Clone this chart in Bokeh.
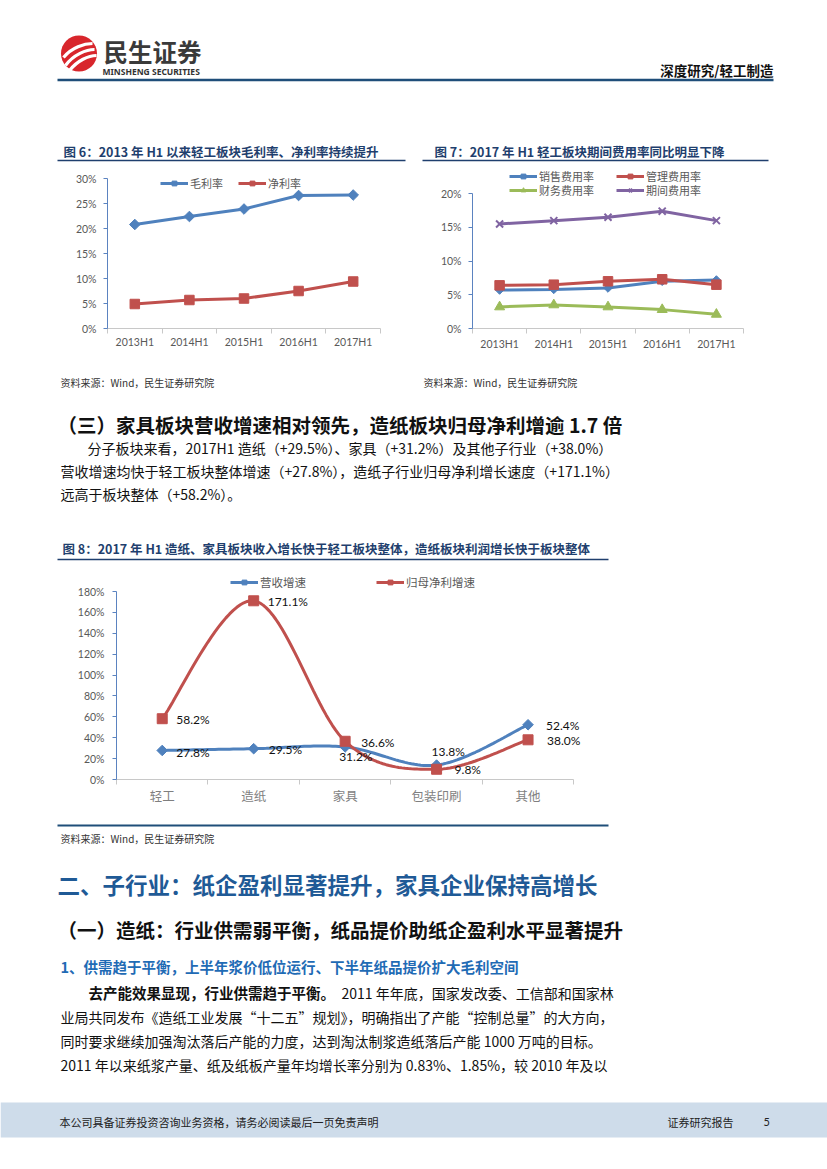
import numpy as np
from bokeh.plotting import figure
from bokeh.layouts import column, row
from bokeh.models import (Range1d, LinearAxis, FixedTicker, PrintfTickFormatter,
                          CustomJSTickFormatter, Legend, LegendItem, Spacer, ColumnDataSource)
from bokeh.core.properties import value
from bokeh.embed import file_html
from bokeh.resources import INLINE

# ---------------- data ----------------
periods = ["2013H1", "2014H1", "2015H1", "2016H1", "2017H1"]
gross_margin = [20.8, 22.4, 23.9, 26.6, 26.7]
net_margin = [4.9, 5.7, 6.0, 7.5, 9.4]

selling_rate = [5.7, 5.8, 6.0, 7.0, 7.2]
admin_rate = [6.4, 6.5, 7.0, 7.3, 6.5]
finance_rate = [3.2, 3.5, 3.2, 2.8, 2.1]
period_rate = [15.5, 16.0, 16.5, 17.4, 16.0]

sectors = ["轻工", "造纸", "家具", "包装印刷", "其他"]
revenue_growth = [27.8, 29.5, 31.2, 13.8, 52.4]
profit_growth = [58.2, 171.1, 36.6, 9.8, 38.0]

# ---------------- styles ----------------
CJK = "Noto Sans CJK SC"
NUM = "Lato"
BLUE, RED, GREEN, PURPLE = "#4F81BD", "#C0504D", "#9BBB59", "#8064A2"
NAVY = "#1F3F6E"
TICK_GRAY = "#595959"
AXIS_BLUE = "#5B83C0"
AXIS_GRAY = "#C8C8C8"
BODY = "#111111"

W = 827


def page(top, height):
    p = figure(width=W, height=height, x_range=Range1d(0, W),
               y_range=Range1d(top + height, top), output_backend="svg",
               toolbar_location=None, min_border=0, x_axis_type=None,
               y_axis_type=None, title=None)
    p.outline_line_color = None
    p.background_fill_color = "white"
    p.border_fill_color = "white"
    return p


def txt(p, x, y, s, size, color=BODY, bold=False, align="left", font=CJK):
    p.text(x=[x], y=[y], text=[s], text_font=value(font),
           text_font_size=f"{size}px", text_color=color,
           text_font_style="bold" if bold else "normal",
           text_align=align, text_baseline="middle")


def hline(p, x0, x1, y, w, color=NAVY):
    p.line(x=[x0, x1], y=[y, y], line_width=w, line_color=color)


def chart(width, height, left, right, top, bottom, labels, x_end, y_max, y_end, y_step,
          xfont, xsize, xcolor, xstandoff):
    n = len(labels)
    p = figure(width=width, height=height, output_backend="svg", toolbar_location=None,
               x_range=Range1d(0, x_end), y_range=Range1d(0, y_end),
               x_axis_type=None, y_axis_type=None, title=None,
               min_border_left=left, min_border_right=right,
               min_border_top=top, min_border_bottom=bottom)
    p.outline_line_color = None
    xa = LinearAxis(ticker=FixedTicker(ticks=[i + 0.5 for i in range(n)],
                                       minor_ticks=list(range(n + 1))),
                    formatter=CustomJSTickFormatter(args=dict(labels=labels),
                                                    code="return labels[Math.floor(tick)];"),
                    bounds=(0, n))
    xa.axis_line_color = AXIS_GRAY
    xa.major_tick_line_color = None
    xa.major_tick_in = 0
    xa.major_tick_out = 0
    xa.minor_tick_line_color = AXIS_GRAY
    xa.minor_tick_in = 0
    xa.minor_tick_out = 5
    xa.major_label_standoff = xstandoff
    xa.major_label_text_font = xfont
    xa.major_label_text_font_size = f"{xsize}px"
    xa.major_label_text_color = xcolor
    p.add_layout(xa, "below")
    ya = LinearAxis(ticker=FixedTicker(ticks=list(range(0, y_max + 1, y_step))),
                    formatter=PrintfTickFormatter(format="%d%%"), bounds=(0, y_max))
    ya.axis_line_color = AXIS_BLUE
    ya.major_tick_line_color = AXIS_BLUE
    ya.major_tick_in = 0
    ya.major_tick_out = 4
    ya.minor_tick_line_color = None
    ya.major_label_standoff = 7
    ya.major_label_text_font = NUM
    ya.major_label_text_font_size = "10.5px"
    ya.major_label_text_color = TICK_GRAY
    p.add_layout(ya, "left")
    return p


def smooth(xs, ys, n=30):
    xs = np.asarray(xs, float)
    ys = np.asarray(ys, float)
    P = np.column_stack([xs, ys])
    ext = np.vstack([P[0], P, P[-1]])
    t = np.linspace(0, 1, n)[:, None]
    out = []
    for i in range(len(P) - 1):
        p0, p1, p2, p3 = ext[i], ext[i + 1], ext[i + 2], ext[i + 3]
        c1 = p1 + (p2 - p0) / 6.0
        c2 = p2 - (p3 - p1) / 6.0
        seg = ((1 - t) ** 3) * p1 + 3 * ((1 - t) ** 2) * t * c1 + 3 * (1 - t) * t ** 2 * c2 + t ** 3 * p2
        out.append(seg if i == 0 else seg[1:])
    out = np.vstack(out)
    return out[:, 0], out[:, 1]


def series(p, xs, ys, color, marker, size, angle=0.0, smooth_line=False, mlw=1.0):
    if smooth_line:
        sx, sy = smooth(xs, ys)
    else:
        sx, sy = xs, ys
    lr = p.line(x=sx, y=sy, line_color=color, line_width=3)
    sr = p.scatter(x=xs, y=ys, marker=marker, size=size, angle=angle,
                   fill_color=color, line_color=color, line_width=mlw)
    return [lr, sr]


def legend(p, items, loc, spacing, label_width=20, size=11):
    lg = Legend(items=[LegendItem(label=l, renderers=r) for l, r in items],
                location=loc, orientation="horizontal")
    lg.border_line_color = None
    lg.background_fill_alpha = 0
    lg.padding = 0
    lg.margin = 0
    lg.spacing = spacing
    lg.glyph_width = 28
    lg.glyph_height = 12
    lg.label_height = 12
    lg.label_width = label_width
    lg.label_standoff = 2
    lg.label_text_font = CJK
    lg.label_text_font_size = f"{size}px"
    lg.label_text_color = TICK_GRAY
    lg.label_text_baseline = "middle"
    p.add_layout(lg)


DIAMOND = np.pi / 4

# ---------------- band A : header + chart titles (y 0..162) ----------------
A = page(0, 162)
A.scatter(x=[78.5], y=[53], size=36, marker="circle", fill_color="#D8262C", line_color=None)
A.bezier(x0=[63, 65, 69], y0=[57, 65, 70], x1=[92, 94, 96], y1=[43, 49, 55],
         cx0=[71, 73, 77], cy0=[47, 54, 60], cx1=[84, 86, 88], cy1=[43, 49, 55],
         line_color="white", line_width=3.2)
txt(A, 103, 51, "民生证券", 24.5, "#3A3A3A", bold=True)
txt(A, 102, 71, "MINSHENG SECURITIES", 8.5, "#333333", bold=True, font="Noto Sans")
txt(A, 773, 69, "深度研究/轻工制造", 13.5, "#111111", bold=True, align="right")
hline(A, 57, 773, 79.5, 2.5, "#1F4E79")
txt(A, 63, 151, "图 6：2013 年 H1 以来轻工板块毛利率、净利率持续提升", 12.5, NAVY, bold=True)
txt(A, 434, 151, "图 7：2017 年 H1 轻工板块期间费用率同比明显下降", 12.5, NAVY, bold=True)
hline(A, 57, 405, 160, 1.5)
hline(A, 422, 768, 160, 1.5)

# ---------------- band B : charts 6 & 7 (y 162..370) ----------------
xs5 = [i + 0.5 for i in range(len(periods))]

c6 = chart(415, 208, 107, 35, 5, 42, periods, 5, 30, 32.2, 5, NUM, 10.5, TICK_GRAY, 2)
r_g = series(c6, xs5, gross_margin, BLUE, "square", 7.5, angle=DIAMOND)
r_n = series(c6, xs5, net_margin, RED, "square", 9.5)
legend(c6, [("毛利率", r_g), ("净利率", r_n)], (53, 137), 15)

c7 = chart(412, 208, 57, 84, 0, 40, periods, 5, 20, 168 / 7.035, 5, NUM, 10.5, TICK_GRAY, 4)
r_s = series(c7, xs5, selling_rate, BLUE, "square", 6, angle=DIAMOND)
r_a = series(c7, xs5, admin_rate, RED, "square", 9.5)
r_f = series(c7, xs5, finance_rate, GREEN, "triangle", 10)
r_p = series(c7, xs5, period_rate, PURPLE, "x", 10, mlw=2)
legend(c7, [("销售费用率", r_s), ("管理费用率", r_a)], (37, 144), 2, label_width=75)
legend(c7, [("财务费用率", r_f), ("期间费用率", r_p)], (37, 130), 2, label_width=75)

# ---------------- band C : text + chart 8 title (y 370..565) ----------------
C = page(370, 195)
txt(C, 60, 382, "资料来源：Wind，民生证券研究院", 10, "#333333")
txt(C, 423, 382, "资料来源：Wind，民生证券研究院", 10, "#333333")
txt(C, 57, 424, "（三）家具板块营收增速相对领先，造纸板块归母净利增逾 1.7 倍", 19.5, "#111111", bold=True)
txt(C, 87, 447, "分子板块来看，2017H1 造纸（+29.5%）、家具（+31.2%）及其他子行业（+38.0%）", 14)
txt(C, 60, 470, "营收增速均快于轻工板块整体增速（+27.8%），造纸子行业归母净利增长速度（+171.1%）", 14)
txt(C, 60, 493, "远高于板块整体（+58.2%）。", 14)
txt(C, 62, 548, "图 8：2017 年 H1 造纸、家具板块收入增长快于轻工板块整体，造纸板块利润增长快于板块整体", 12.5, NAVY, bold=True)
hline(C, 57, 608, 559, 1.5)

# ---------------- band D : chart 8 (y 565..815) ----------------
c8 = chart(627, 250, 116, 8, 5, 36, sectors, 5.5, 180, 209 / (188 / 180), 20, CJK, 12.5, "#7F7F7F", 1)
c8.yaxis.major_label_standoff = 8
r_rev = series(c8, xs5, revenue_growth, BLUE, "square", 7.5, angle=DIAMOND, smooth_line=True)
r_pro = series(c8, xs5, profit_growth, RED, "square", 10, smooth_line=True)
legend(c8, [("营收增速", r_rev), ("归母净利增速", r_pro)], (114, 189), 70, size=11.5)

rev_dx = [14, 15, -6, -5, 18]
rev_dy = [2, 1, 10, -14, 1]
pro_dx = [14, 14, 16, 18, 19]
pro_dy = [1, 1, 1, 0, 1]
for vals, dx, dy in ((revenue_growth, rev_dx, rev_dy), (profit_growth, pro_dx, pro_dy)):
    src = ColumnDataSource(dict(x=xs5, y=vals, t=[f"{v:.1f}%" for v in vals], dx=dx, dy=dy))
    c8.text(x="x", y="y", text="t", x_offset="dx", y_offset="dy", source=src,
            text_font=value(NUM), text_font_size="12px", text_color="#111111",
            text_align="left", text_baseline="middle")

spacer8 = Spacer(width=W - 627, height=250)

# ---------------- band E : text + footer (y 815..1169) ----------------
E = page(815, 354)
hline(E, 57, 608, 825, 2, "#1F4E79")
txt(E, 60, 838, "资料来源：Wind，民生证券研究院", 10, "#333333")
txt(E, 57, 883, "二、子行业：纸企盈利显著提升，家具企业保持高增长", 22.5, "#1F5A96", bold=True)
txt(E, 57, 929, "（一）造纸：行业供需弱平衡，纸品提价助纸企盈利水平显著提升", 19.5, "#111111", bold=True)
txt(E, 60, 966, "1、供需趋于平衡，上半年浆价低位运行、下半年纸品提价扩大毛利空间", 14.5, "#1F6BB5", bold=True)
txt(E, 88, 992, "去产能效果显现，行业供需趋于平衡。", 14.5, "#111111", bold=True)
txt(E, 341, 992, "2011 年年底，国家发改委、工信部和国家林", 14)
txt(E, 60, 1016, "业局共同发布《造纸工业发展“十二五”规划》，明确指出了产能“控制总量”的大方向，", 14)
txt(E, 60, 1040, "同时要求继续加强淘汰落后产能的力度，达到淘汰制浆造纸落后产能 1000 万吨的目标。", 14)
txt(E, 60, 1064, "2011 年以来纸浆产量、纸及纸板产量年均增长率分别为 0.83%、1.85%，较 2010 年及以", 14)
E.quad(left=[0], right=[W], top=[1102], bottom=[1137], fill_color="#CEDCEA", line_color=None)
txt(E, 59, 1121, "本公司具备证券投资咨询业务资格，请务必阅读最后一页免责声明", 11, "#222222")
txt(E, 667, 1121, "证券研究报告", 11, "#222222")
txt(E, 763, 1121, "5", 11, "#222222", font=NUM)

layout = column(A, row(c6, c7), C, row(c8, spacer8), E)
open("out.html", "w").write(file_html(layout, INLINE))
